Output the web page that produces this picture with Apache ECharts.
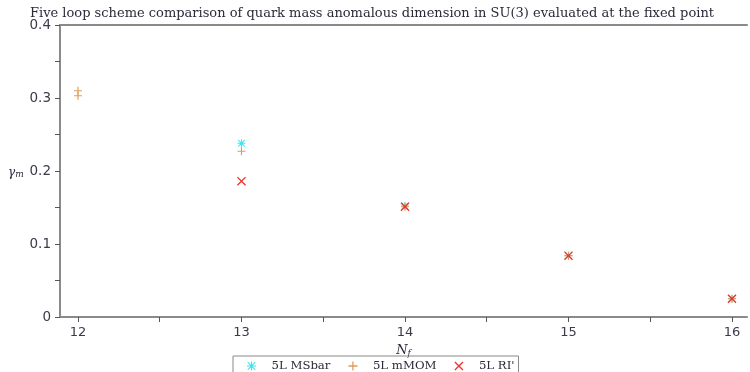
<!DOCTYPE html>
<html>
<head>
<meta charset="utf-8">
<script src="https://cdn.jsdelivr.net/npm/echarts@6/dist/echarts.min.js"></script>
<style>
  html, body { margin: 0; padding: 0; background: #fff; }
  #chart { width: 750px; height: 372px; }
</style>
</head>
<body>
<div id="chart"></div>
<script>
// Quark mass anomalous dimension at the fixed point, five-loop, three schemes
const nfTicks = [12, 13, 14, 15, 16];
const yTicks = [0, 0.1, 0.2, 0.3, 0.4];

// [Nf, gamma_m] pairs per scheme
const msbarPoints = [[13, 0.238], [14, 0.152], [15, 0.084], [16, 0.025]];
const mmomPoints = [[12, 0.310], [12, 0.303], [13, 0.227], [14, 0.151], [15, 0.084], [16, 0.025]];
const riPoints = [[13, 0.186], [14, 0.151], [15, 0.084], [16, 0.025]];

const seriesNames = ['5L MSbar', '5L mMOM', "5L RI'"];
const seriesColors = ['#3fe3ee', '#e09a55', '#f0302a'];

const serif = '"DejaVu Serif", serif';
const sans = '"DejaVu Sans", sans-serif';

// Marker shapes: asterisk, plus, diagonal cross
const starPath = 'path://M4.4,0h1.2v4.4h4.4v1.2h-4.4v4.4h-1.2v-4.4h-4.4v-1.2h4.4z M1.2,0.4L9.6,8.8L8.8,9.6L0.4,1.2z M8.8,0.4L9.6,1.2L1.2,9.6L0.4,8.8z';
const plusPath = 'path://M4.3,0h1.4v4.3h4.3v1.4h-4.3v4.3h-1.4v-4.3h-4.3v-1.4h4.3z';
const crossPath = 'path://M1,0L10,9L9,10L0,1z M9,0L10,1L1,10L0,9z';
const symbols = [starPath, plusPath, crossPath];
const sizes = [8, 8, 9];

const minorStep = (a, step) => {
  const out = [];
  for (let i = 0; i < a.length; i++) {
    out.push(a[i]);
    if (i < a.length - 1) out.push(+(a[i] + step).toFixed(4));
  }
  return out;
};

const chart = echarts.init(document.getElementById('chart'), null, { renderer: 'canvas' });

const axisColor = '#8a8a8a';
const labelColor = '#3a3a4a';
const xMin = 11.89, xMax = 16.092;

chart.setOption({
  animation: false,
  backgroundColor: '#fff',
  title: {
    text: 'Five loop scheme comparison of quark mass anomalous dimension in SU(3) evaluated at the fixed point',
    left: 25,
    top: 2,
    textStyle: { fontFamily: serif, fontSize: 13, fontWeight: 'normal', color: '#2a2a3a' }
  },
  grid: { left: 60, top: 25, right: 3, bottom: 55, show: false },
  xAxis: [{
    type: 'value',
    min: xMin, max: xMax,
    name: '{i|N}{s|f}',
    nameLocation: 'middle',
    nameGap: 22,
    nameTextStyle: {
      rich: {
        i: { fontFamily: serif, fontStyle: 'italic', fontSize: 13, color: '#2a2a3a' },
        s: { fontFamily: serif, fontStyle: 'italic', fontSize: 9, color: '#2a2a3a', verticalAlign: 'bottom', padding: [6, 0, 0, 0] }
      }
    },
    axisLine: { show: true, onZero: false, lineStyle: { color: axisColor, width: 2 } },
    axisTick: { show: true, length: 5, customValues: minorStep(nfTicks, 0.5), lineStyle: { color: '#555', width: 1 } },
    axisLabel: {
      customValues: nfTicks, margin: 9,
      fontFamily: sans, fontSize: 13, color: labelColor,
      formatter: v => String(v)
    },
    splitLine: { show: false }
  }, {
    // frame line along the top of the plot area
    type: 'value', position: 'top',
    min: xMin, max: xMax,
    axisLine: { show: true, onZero: false, lineStyle: { color: axisColor, width: 2 } },
    axisTick: { show: false }, axisLabel: { show: false }, splitLine: { show: false }
  }],
  yAxis: {
    type: 'value',
    min: 0, max: 0.4, interval: 0.1,
    axisLine: { show: true, onZero: false, lineStyle: { color: axisColor, width: 2 } },
    axisTick: { show: true, length: 5, customValues: minorStep(yTicks, 0.05), lineStyle: { color: '#555', width: 1 } },
    axisLabel: {
      customValues: yTicks, margin: 9,
      fontFamily: sans, fontSize: 13.5, color: labelColor,
      formatter: v => (v === 0 ? '0' : v.toFixed(1))
    },
    splitLine: { show: false }
  },
  graphic: [{
    type: 'text',
    left: 8, top: 167,
    style: {
      text: '{g|γ}{m|m}',
      rich: {
        g: { fontFamily: serif, fontStyle: 'italic', fontSize: 12, fill: '#2a2a3a' },
        m: { fontFamily: serif, fontStyle: 'italic', fontSize: 9, fill: '#2a2a3a', padding: [4, 0, 0, 0] }
      }
    }
  }],
  legend: {
    left: 233, top: 356,
    orient: 'horizontal',
    data: seriesNames.map((n, i) => ({ name: n, icon: symbols[i] })),
    itemWidth: 30, itemHeight: 9, itemGap: 18,
    padding: [4, 4, 4, 14],
    borderColor: '#888', borderWidth: 1,
    textStyle: { fontFamily: serif, fontSize: 11.7, color: '#2a2a3a' }
  },
  series: [msbarPoints, mmomPoints, riPoints].map((pts, i) => ({
    name: seriesNames[i],
    type: 'scatter',
    data: pts,
    symbol: symbols[i],
    symbolSize: sizes[i],
    itemStyle: { color: seriesColors[i], opacity: 1 },
    z: 2 + i
  }))
});
</script>
</body>
</html>
